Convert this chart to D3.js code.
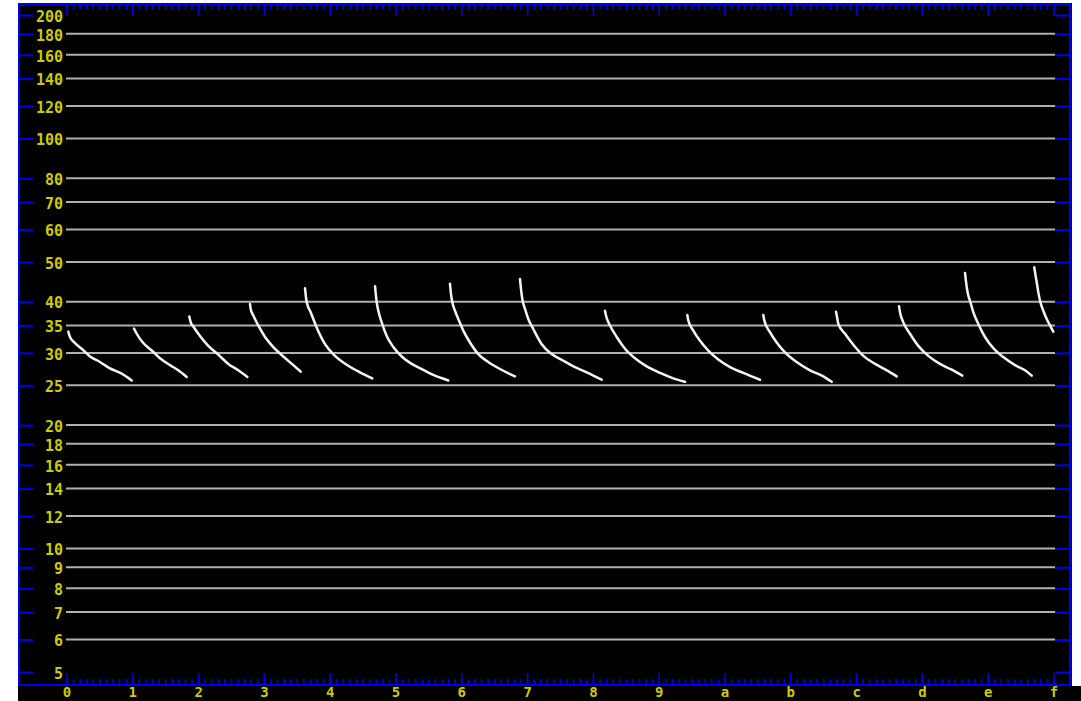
<!DOCTYPE html>
<html>
<head>
<meta charset="utf-8">
<script src="https://cdn.jsdelivr.net/npm/d3@7"></script>
<style>
  body { margin: 0; background: #ffffff; }
  svg { display: block; }
  .lbl { font-family: "DejaVu Sans Mono", monospace; font-weight: bold; font-size: 15px; fill: #cccc00; }
  .xlbl { font-family: "DejaVu Sans Mono", monospace; font-weight: bold; font-size: 14px; fill: #cccc00; }
</style>
</head>
<body>
<script>
// Define SVG area dimensions
var svgWidth = 1081;
var svgHeight = 701;

// tick values on the y axis (log scale) and the ones that get a grid line
var yTicks = [200, 180, 160, 140, 120, 100, 80, 70, 60, 50, 40, 35, 30, 25, 20, 18, 16, 14, 12, 10, 9, 8, 7, 6, 5];
var gridTicks = [180, 160, 140, 120, 100, 80, 70, 60, 50, 40, 35, 30, 25, 20, 18, 16, 14, 12, 10, 9, 8, 7, 6];
var xLabels = ["0", "1", "2", "3", "4", "5", "6", "7", "8", "9", "a", "b", "c", "d", "e", "f"];

// each curve: x positions (axis units) and values
var segX = [
    [0.027, 0.053, 0.129, 0.231, 0.357, 0.509, 0.661, 0.839, 0.991],
    [1.026, 1.067, 1.167, 1.295, 1.421, 1.573, 1.699, 1.827],
    [1.866, 1.888, 1.927, 2.029, 2.155, 2.307, 2.459, 2.611, 2.748],
    [2.789, 2.799, 2.839, 2.915, 3.017, 3.143, 3.295, 3.447, 3.559],
    [3.625, 3.650, 3.711, 3.802, 3.929, 4.081, 4.283, 4.460, 4.647],
    [4.689, 4.714, 4.739, 4.790, 4.866, 4.967, 5.094, 5.246, 5.398, 5.574, 5.802],
    [5.828, 5.843, 5.863, 5.904, 5.954, 6.030, 6.132, 6.258, 6.410, 6.588, 6.816],
    [6.892, 6.907, 6.927, 6.968, 7.018, 7.094, 7.222, 7.374, 7.550, 7.728, 7.906, 8.134],
    [8.184, 8.199, 8.260, 8.362, 8.488, 8.640, 8.818, 9.021, 9.222, 9.400],
    [9.435, 9.450, 9.526, 9.628, 9.754, 9.906, 10.084, 10.286, 10.540],
    [10.590, 10.605, 10.691, 10.793, 10.919, 11.097, 11.299, 11.502, 11.629],
    [11.695, 11.710, 11.730, 11.832, 11.958, 12.110, 12.288, 12.466, 12.617],
    [12.652, 12.667, 12.718, 12.819, 12.945, 13.097, 13.275, 13.453, 13.614],
    [13.655, 13.685, 13.705, 13.731, 13.781, 13.857, 13.959, 14.085, 14.237, 14.415, 14.567, 14.669],
    [14.708, 14.719, 14.745, 14.769, 14.795, 14.845, 14.897, 14.947, 14.997]
];
var segV = [
    [33.8, 32.8, 31.7, 30.7, 29.4, 28.5, 27.5, 26.7, 25.7],
    [34.4, 33.4, 31.7, 30.4, 29.1, 28.0, 27.2, 26.2],
    [36.8, 35.6, 34.8, 33.0, 31.2, 29.7, 28.2, 27.2, 26.2],
    [39.5, 38.4, 37.0, 35.0, 32.8, 31.0, 29.4, 28.0, 27.0],
    [43.1, 39.9, 37.7, 34.6, 31.5, 29.5, 27.9, 26.9, 26.0],
    [43.6, 39.9, 38.0, 35.6, 33.0, 31.0, 29.4, 28.2, 27.4, 26.5, 25.7],
    [44.2, 41.8, 39.9, 38.0, 36.3, 34.0, 31.8, 29.8, 28.5, 27.4, 26.3],
    [45.4, 43.0, 40.6, 38.4, 36.3, 34.3, 31.5, 29.8, 28.7, 27.7, 26.9, 25.8],
    [38.0, 37.0, 35.0, 32.8, 30.7, 29.1, 27.8, 26.8, 26.0, 25.5],
    [37.1, 36.0, 34.0, 32.1, 30.4, 28.9, 27.7, 26.8, 25.8],
    [37.1, 36.0, 33.7, 31.8, 30.1, 28.5, 27.2, 26.3, 25.5],
    [37.8, 36.7, 35.3, 33.4, 31.4, 29.5, 28.2, 27.2, 26.3],
    [39.0, 37.7, 35.6, 33.4, 31.2, 29.5, 28.2, 27.3, 26.4],
    [47.0, 43.0, 41.4, 40.2, 37.7, 35.3, 32.8, 30.8, 29.3, 28.0, 27.2, 26.4],
    [48.5, 47.2, 44.6, 42.2, 40.2, 38.0, 36.3, 35.0, 33.8]
];

// frame edges
var frame = { left: 19, right: 1070, top: 4, bottom: 685 };
var blue = "#0000f0";

var svg = d3.select("body")
    .append("svg")
    .attr("width", svgWidth)
    .attr("height", svgHeight);

// black panel
svg.append("rect")
    .attr("x", 18).attr("y", 3)
    .attr("width", 1054).attr("height", svgHeight - 3)
    .attr("fill", "#000");
svg.append("rect")
    .attr("x", 18).attr("y", 686)
    .attr("width", svgWidth - 18).attr("height", 15)
    .attr("fill", "#000");

var xScale = d3.scaleLinear().domain([0, 15]).range([66.5, 1053.5]);
var yScale = d3.scaleLog().domain([5, 200]).range([672, 15]);

// grid lines
svg.append("g")
    .selectAll("line")
    .data(gridTicks)
    .enter()
    .append("line")
    .attr("x1", 66)
    .attr("x2", 1055)
    .attr("y1", d => yScale(d))
    .attr("y2", d => yScale(d))
    .attr("stroke", "#b0b0b0")
    .attr("stroke-width", 2);

// left axis: ticks inside the frame, labels right aligned
var leftAxis = d3.axisRight(yScale).tickValues(yTicks).tickSize(14).tickFormat(d3.format("d"));
var gLeft = svg.append("g")
    .attr("transform", "translate(" + frame.left + ",0)")
    .call(leftAxis);
gLeft.select(".domain").remove();
gLeft.selectAll("line").attr("stroke", blue).attr("stroke-width", 2);
gLeft.selectAll("text")
    .attr("class", "lbl")
    .attr("x", 44)
    .attr("dy", "0.42em")
    .attr("text-anchor", "end");

// right axis, ticks only
var rightAxis = d3.axisLeft(yScale).tickValues(yTicks).tickSize(15).tickFormat("");
var gRight = svg.append("g")
    .attr("transform", "translate(" + frame.right + ",0)")
    .call(rightAxis);
gRight.select(".domain").remove();
gRight.selectAll("line").attr("stroke", blue).attr("stroke-width", 2);

// minor + major ticks, top and bottom
var minorTicks = d3.range(0, 151).map(d => d / 10);
var majorTicks = d3.range(0, 16);

function tickRow(y, size, values, fmt) {
    var ax = d3.axisBottom(xScale)
        .tickValues(values).tickSize(size).tickFormat(fmt || "");
    var g = svg.append("g")
        .attr("transform", "translate(0," + y + ")")
        .call(ax);
    g.select(".domain").remove();
    g.selectAll("line").attr("stroke", blue).attr("stroke-width", 1.6);
    return g;
}

tickRow(frame.top, 6, minorTicks);
tickRow(frame.top, 12, majorTicks);
tickRow(frame.bottom, -6, minorTicks);
var gBottom = tickRow(frame.bottom, -12, majorTicks, (d, i) => xLabels[i]);
gBottom.selectAll("text")
    .attr("class", "xlbl")
    .attr("y", 12)
    .attr("dy", 0);

// frame
svg.append("rect")
    .attr("x", frame.left)
    .attr("y", frame.top)
    .attr("width", frame.right - frame.left)
    .attr("height", frame.bottom - frame.top)
    .attr("fill", "none")
    .attr("stroke", blue)
    .attr("stroke-width", 2);

// curves
var line = d3.line()
    .x(d => xScale(d[0]))
    .y(d => yScale(d[1]))
    .curve(d3.curveMonotoneX);

var curves = segX.map((xs, i) => xs.map((x, j) => [x, segV[i][j]]));

svg.append("g")
    .selectAll("path")
    .data(curves)
    .enter()
    .append("path")
    .attr("d", line)
    .attr("fill", "none")
    .attr("stroke", "#f4f4f4")
    .attr("stroke-width", 2.5)
    .attr("stroke-linecap", "round");
</script>
</body>
</html>
